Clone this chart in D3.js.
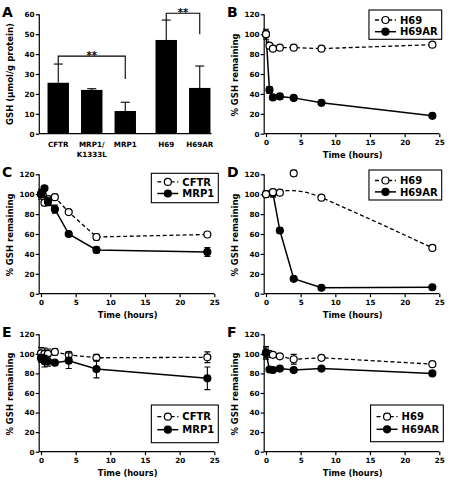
<!DOCTYPE html>
<html><head><meta charset="utf-8">
<script src="https://cdn.jsdelivr.net/npm/d3@7"></script>
<style>
body{margin:0;background:#fff}
svg{display:block}
text{font-family:"DejaVu Sans",sans-serif;font-weight:bold;fill:#000}
</style>
</head><body>
<svg id="chart" width="450" height="480"></svg>
<script>
// ---------------- DATA ----------------
// Panel A
const barCategories = ["CFTR", "MRP1/K1333L", "MRP1", "H69", "H69AR"];
const barLabelLines = [["CFTR"], ["MRP1/", "K1333L"], ["MRP1"], ["H69"], ["H69AR"]];
const barGroups = [0, 0, 0, 1, 1];
const gshMean = [25.6, 22.0, 11.4, 47.1, 23.0];
const gshErr = [9.4, 0.6, 4.4, 10.0, 11.0];
const gshTicks = [0, 10, 20, 30, 40, 50, 60];
const sigFrom = ["CFTR", "H69"];
const sigTo = ["MRP1", "H69AR"];
const sigLevel = [39, 60.5];
const sigToEnd = [27.5, 50];
const sigLabel = ["**", "**"];

// Time-course panels
const timeTicks = [0, 5, 10, 15, 20, 25];
const pctTicks = [0, 20, 40, 60, 80, 100, 120];

const timesB = [0, 0.5, 1, 2, 4, 8, 24];
const bH69 = [100, 88.5, 85.5, 86.5, 86.5, 85.5, 89.5];
const bH69Err = [2, 1.5, 1, 1, 1, 1, 1.5];
const bH69AR = [100, 44, 36.5, 37.5, 36, 31, 18];
const bH69ARErr = [5, 3.5, 1.5, 2.5, 1.5, 1, 1];

const timesC = [0, 0.5, 1, 2, 4, 8, 24];
const cCFTR = [100, 91.5, 95, 97, 82, 57, 59.5];
const cCFTRErr = [5, 3, 3, 3, 1.5, 3, 1.5];
const cMRP1 = [100, 106, 92.5, 85, 60, 44, 42];
const cMRP1Err = [3, 2, 4, 4, 1.5, 3, 4.5];

const timesD = [0, 1, 2, 4, 8, 24];
const dH69 = [100, 102, 101.5, 121, 96.5, 46];
const dH69Err = [3, 2, 1, 3, 1.5, 2.5];
const dH69AR = [100, 101, 63.5, 15, 6, 6.5];
const dH69ARErr = [3, 4, 3, 1.5, 1, 1];
const dH69FitTimes = [0, 1, 2, 3, 4, 5, 6, 8, 10, 12, 16, 20, 24];
const dH69FitValues = [100, 101.8, 102.9, 103.5, 103.5, 102.8, 101.5, 96.5, 90.5, 84.3, 71.8, 59, 46];

const timesE = [0, 0.5, 1, 2, 4, 8, 24];
const eCFTR = [100.5, 100, 100, 102, 99, 96, 96.5];
const eCFTRErr = [6, 6, 5, 3, 3, 3.5, 5.5];
const eMRP1 = [95.5, 92.5, 92.5, 91, 93, 84.5, 75];
const eMRP1Err = [4, 6, 5, 2, 8, 9, 11.5];

const timesF = [0, 0.5, 1, 2, 4, 8, 24];
const fH69 = [101, 100, 99, 97.5, 94.5, 96, 89.5];
const fH69Err = [5, 2, 2, 1.5, 5, 2, 2];
const fH69AR = [101, 84, 83.5, 85, 83.5, 85, 80];
const fH69ARErr = [6.5, 2, 1.5, 1.5, 1.5, 1.5, 1.5];

// ---------------- LAYOUT ----------------
const svg = d3.select("#chart");
const rowTop = [14.3, 174.3, 334.3];
const rowBottom = [133.7, 293.7, 451.7];
const colX0 = [41, 266];
const plotW = 173.3;
const axisGap = 1.8;
const tickFont = 7.2, titleFont = 8.3, legendFont = 10, letterFont = 14;

function styleAxis(g) {
  g.selectAll("path.domain").remove();
  g.selectAll(".tick line").attr("stroke", "#000").attr("stroke-width", 1.2);
  g.selectAll(".tick text").style("font-size", tickFont + "px").style("font-family", '"DejaVu Sans",sans-serif').style("font-weight", "bold").attr("fill", "#000");
}

function panelLetter(letter, x, y) {
  svg.append("text").attr("x", x).attr("y", y).style("font-size", letterFont + "px").text(letter);
}

// ---------------- PANEL A ----------------
(function () {
  const yTop = rowTop[0], yBot = rowBottom[0];
  const axisX = 39.3;
  const y = d3.scaleLinear().domain([0, 60]).range([yBot, yTop]);
  const x = d3.scaleBand().domain(barCategories).range([41.5, 209]).paddingInner(0.36).paddingOuter(0.18);
  const groupGap = 7.5;
  const bx = (c, i) => x(c) + barGroups[i] * groupGap;
  const g = svg.append("g");

  const ya = g.append("g").attr("transform", `translate(${axisX},0)`)
    .call(d3.axisLeft(y).tickValues(gshTicks).tickSize(3.5).tickPadding(1.2).tickSizeOuter(0));
  styleAxis(ya);
  g.append("line").attr("x1", axisX).attr("x2", axisX).attr("y1", yTop).attr("y2", yBot).attr("stroke", "#000").attr("stroke-width", 1.2);
  g.append("line").attr("x1", axisX).attr("x2", bx("H69AR", 4) + x.bandwidth() + 1).attr("y1", yBot).attr("y2", yBot).attr("stroke", "#000").attr("stroke-width", 1.2);

  // error bars (upper only)
  barCategories.forEach((c, i) => {
    const cx = bx(c, i) + x.bandwidth() / 2;
    g.append("line").attr("x1", cx).attr("x2", cx).attr("y1", y(gshMean[i])).attr("y2", y(gshMean[i] + gshErr[i])).attr("stroke", "#000").attr("stroke-width", 1.1);
    g.append("line").attr("x1", cx - 4.5).attr("x2", cx + 4.5).attr("y1", y(gshMean[i] + gshErr[i])).attr("y2", y(gshMean[i] + gshErr[i])).attr("stroke", "#000").attr("stroke-width", 1.1);
  });
  g.selectAll("rect.bar").data(barCategories).enter().append("rect")
    .attr("x", (c, i) => bx(c, i)).attr("width", x.bandwidth())
    .attr("y", (c, i) => y(gshMean[i])).attr("height", (c, i) => yBot - y(gshMean[i]))
    .attr("fill", "#000");

  // category labels
  barCategories.forEach((c, i) => {
    const cx = bx(c, i) + x.bandwidth() / 2;
    barLabelLines[i].forEach((line, k) => {
      g.append("text").attr("x", cx).attr("y", yBot + 12.8 + k * 10).attr("text-anchor", "middle").style("font-size", tickFont + "px").text(line);
    });
  });

  // significance brackets
  sigFrom.forEach((f, k) => {
    const i1 = barCategories.indexOf(f), i2 = barCategories.indexOf(sigTo[k]);
    const x1 = bx(f, i1) + x.bandwidth() / 2, x2 = bx(sigTo[k], i2) + x.bandwidth() / 2;
    const yl = y(sigLevel[k]);
    const y1 = y(gshMean[i1] + gshErr[i1]), y2 = y(sigToEnd[k]);
    g.append("path").attr("d", `M${x1},${y1}V${yl}H${x2}V${y2}`).attr("fill", "none").attr("stroke", "#000").attr("stroke-width", 1.1);
    g.append("text").attr("x", (x1 + x2) / 2).attr("y", yl + 2.5).attr("text-anchor", "middle").style("font-size", "10px").text(sigLabel[k]);
  });

  g.append("text").attr("transform", `translate(${axisX - 26},${(yTop + yBot) / 2}) rotate(-90)`).attr("text-anchor", "middle").style("font-size", "8.5px").text("GSH (\u03bcmol/g protein)");
  panelLetter("A", 2, 17);
})();

// ---------------- TIME PANELS ----------------
const panels = [
  { letter: "B", col: 1, row: 0,
    series: [
      { name: "H69AR", open: false, t: timesB, v: bH69AR, e: bH69ARErr },
      { name: "H69", open: true, t: timesB, v: bH69, e: bH69Err }
    ],
    legendOrder: ["H69", "H69AR"], legend: { right: 441.7, top: 10, bottom: 39.3, rows: [20, 31.7] } },
  { letter: "C", col: 0, row: 1,
    series: [
      { name: "CFTR", open: true, t: timesC, v: cCFTR, e: cCFTRErr },
      { name: "MRP1", open: false, t: timesC, v: cMRP1, e: cMRP1Err }
    ],
    legendOrder: ["CFTR", "MRP1"], legend: { right: 218.3, top: 173.3, bottom: 202.7, rows: [181.9, 193.5] } },
  { letter: "D", col: 1, row: 1,
    series: [
      { name: "H69AR", open: false, t: timesD, v: dH69AR, e: dH69ARErr },
      { name: "H69", open: true, t: timesD, v: dH69, e: dH69Err, lineT: dH69FitTimes, lineV: dH69FitValues }
    ],
    legendOrder: ["H69", "H69AR"], legend: { right: 441.7, top: 170, bottom: 200, rows: [180.5, 191.9] } },
  { letter: "E", col: 0, row: 2,
    series: [
      { name: "CFTR", open: true, t: timesE, v: eCFTR, e: eCFTRErr },
      { name: "MRP1", open: false, t: timesE, v: eMRP1, e: eMRP1Err }
    ],
    legendOrder: ["CFTR", "MRP1"], legend: { right: 218.3, top: 405, bottom: 442.7, rows: [416.7, 429.7] } },
  { letter: "F", col: 1, row: 2,
    series: [
      { name: "H69", open: true, t: timesF, v: fH69, e: fH69Err },
      { name: "H69AR", open: false, t: timesF, v: fH69AR, e: fH69ARErr }
    ],
    legendOrder: ["H69", "H69AR"], legend: { right: 443.3, top: 405, bottom: 441.7, rows: [416.7, 429.3] } }
];

const markerR = 3.5;
function drawMarker(g, cx, cy, open) {
  g.append("circle").attr("cx", cx).attr("cy", cy).attr("r", markerR)
    .attr("fill", open ? "#fff" : "#000").attr("stroke", "#000").attr("stroke-width", 1.2);
}
function lineStyle(sel, open) {
  sel.attr("fill", "none").attr("stroke", "#000").attr("stroke-width", open ? 1.3 : 1.5)
    .attr("stroke-dasharray", open ? "4,2.6" : null);
}

panels.forEach(p => {
  const x0 = colX0[p.col], yTop = rowTop[p.row], yBot = rowBottom[p.row];
  const x = d3.scaleLinear().domain([0, 25]).range([x0, x0 + plotW]);
  const y = d3.scaleLinear().domain([0, 120]).range([yBot, yTop]);
  const axisX = x0 - axisGap;
  const g = svg.append("g");

  const ya = g.append("g").attr("transform", `translate(${axisX},0)`)
    .call(d3.axisLeft(y).tickValues(pctTicks).tickSize(3.5).tickPadding(1.2));
  styleAxis(ya);
  const xa = g.append("g").attr("transform", `translate(0,${yBot})`)
    .call(d3.axisBottom(x).tickValues(timeTicks).tickSize(3.5).tickPadding(2.6));
  styleAxis(xa);
  g.append("line").attr("x1", axisX).attr("x2", axisX).attr("y1", yTop).attr("y2", yBot).attr("stroke", "#000").attr("stroke-width", 1.2);
  g.append("line").attr("x1", axisX).attr("x2", x(25)).attr("y1", yBot).attr("y2", yBot).attr("stroke", "#000").attr("stroke-width", 1.2);

  g.append("text").attr("x", (x(0) + x(25)) / 2).attr("y", yBot + 24.6).attr("text-anchor", "middle").style("font-size", titleFont + "px").text("Time (hours)");
  g.append("text").attr("transform", `translate(${axisX - 26},${(yTop + yBot) / 2 + 1}) rotate(-90)`).attr("text-anchor", "middle").style("font-size", "8.5px").text("% GSH remaining");

  p.series.forEach(s => {
    const lt = s.lineT || s.t, lv = s.lineV || s.v;
    const gen = d3.line().x((d, i) => x(lt[i])).y((d, i) => y(lv[i])).curve(s.lineT ? d3.curveMonotoneX : d3.curveLinear);
    lineStyle(g.append("path").attr("d", gen(lt)), s.open);
    s.t.forEach((t, i) => {
      const cx = x(t), hi = y(s.v[i] + s.e[i]), lo = y(s.v[i] - s.e[i]);
      g.append("path").attr("d", `M${cx},${hi}V${lo}M${cx - 3},${hi}H${cx + 3}M${cx - 3},${lo}H${cx + 3}`)
        .attr("fill", "none").attr("stroke", "#000").attr("stroke-width", 1.1);
    });
    s.t.forEach((t, i) => drawMarker(g, x(t), y(s.v[i]), s.open));
  });

  // legend
  const L = p.legend;
  const lg = g.append("g");
  const box = lg.append("rect").attr("fill", "#fff").attr("stroke", "#000").attr("stroke-width", 1.1);
  const texts = [];
  p.legendOrder.forEach((name, k) => {
    texts.push(lg.append("text").attr("y", L.rows[k] + 3.6).style("font-size", legendFont + "px").text(name));
  });
  const maxW = d3.max(texts, t => t.node().getComputedTextLength());
  const textX = L.right - 4 - maxW;
  const lineX1 = textX - 25, lineX2 = textX - 4;
  texts.forEach(t => t.attr("x", textX));
  p.legendOrder.forEach((name, k) => {
    const s = p.series.find(d => d.name === name);
    lineStyle(lg.append("line").attr("x1", lineX1).attr("x2", lineX2).attr("y1", L.rows[k]).attr("y2", L.rows[k]), s.open);
    drawMarker(lg, (lineX1 + lineX2) / 2, L.rows[k], s.open);
  });
  box.attr("x", lineX1 - 6).attr("y", L.top).attr("width", L.right - (lineX1 - 6)).attr("height", L.bottom - L.top);

  panelLetter(p.letter, p.col === 0 ? 2 : 227, p.row * 160 + 17);
});
</script>
</body></html>
